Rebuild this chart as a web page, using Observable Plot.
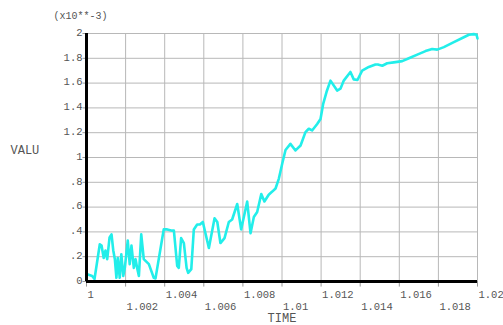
<!DOCTYPE html>
<html>
<head>
<meta charset="utf-8">
<script src="https://cdn.jsdelivr.net/npm/d3@7"></script>
<script src="https://cdn.jsdelivr.net/npm/@observablehq/plot@0.6"></script>
<style>
  html, body { margin: 0; padding: 0; background: white; }
  svg text { font-family: "Liberation Mono", "DejaVu Sans Mono", monospace !important; }
</style>
</head>
<body>
<div id="chart"></div>
<script>
// TIME values
const times = [
  1.00000, 1.00029, 1.00041, 1.00068, 1.00077, 1.00088, 1.00097, 1.00106, 1.00118, 1.00128,
  1.00137, 1.00145, 1.00153, 1.00160, 1.00170, 1.00178, 1.00188, 1.00196, 1.00211, 1.00221,
  1.00230, 1.00242, 1.00251, 1.00259, 1.00268, 1.00280, 1.00293, 1.00319, 1.00344, 1.00353,
  1.00395, 1.00413, 1.00438, 1.00447, 1.00464, 1.00472, 1.00484, 1.00498, 1.00512, 1.00520,
  1.00536, 1.00549, 1.00566, 1.00580, 1.00595, 1.00626, 1.00655, 1.00669, 1.00685, 1.00706,
  1.00728, 1.00745, 1.00771, 1.00791, 1.00822, 1.00839, 1.00856, 1.00873, 1.00894, 1.00910,
  1.00932, 1.00950, 1.00967, 1.00984, 1.01001, 1.01018, 1.01043, 1.01069, 1.01095, 1.01120,
  1.01137, 1.01154, 1.01180, 1.01197, 1.01211, 1.01228, 1.01248, 1.01282, 1.01299, 1.01316,
  1.01350, 1.01367, 1.01386, 1.01410, 1.01444, 1.01478, 1.01490, 1.01513, 1.01538, 1.01572,
  1.01615, 1.01649, 1.01692, 1.01734, 1.01768, 1.01794, 1.01828, 1.01879, 1.01930, 1.01956,
  1.01981, 1.01995, 1.02000
];
// VALU values (x10**-3)
const values = [
  0.06, 0.045, 0.02, 0.30, 0.29, 0.19, 0.25, 0.18, 0.355, 0.38,
  0.25, 0.18, 0.03, 0.19, 0.03, 0.22, 0.045, 0.11, 0.33, 0.14,
  0.29, 0.11, 0.18, 0.11, 0.045, 0.38, 0.18, 0.14, 0.03, 0.025,
  0.42, 0.42, 0.41, 0.41, 0.125, 0.11, 0.35, 0.31, 0.11, 0.07,
  0.10, 0.42, 0.46, 0.46, 0.48, 0.27, 0.51, 0.48, 0.31, 0.35,
  0.48, 0.50, 0.625, 0.42, 0.645, 0.39, 0.52, 0.56, 0.705, 0.645,
  0.70, 0.725, 0.75, 0.83, 0.95, 1.06, 1.11, 1.057, 1.097, 1.205,
  1.232, 1.218, 1.27, 1.31, 1.435, 1.53, 1.62, 1.54, 1.555, 1.62,
  1.69, 1.63, 1.625, 1.70, 1.73, 1.75, 1.75, 1.74, 1.76, 1.767,
  1.777, 1.80, 1.83, 1.858, 1.875, 1.87, 1.89, 1.93, 1.97, 1.99,
  1.995, 1.99, 1.96
];

const xTicks = [1, 1.002, 1.004, 1.006, 1.008, 1.01, 1.012, 1.014, 1.016, 1.018, 1.02];
const xTickLabels = ["1", "1.002", "1.004", "1.006", "1.008", "1.01", "1.012", "1.014", "1.016", "1.018", "1.02"];
const yTicks = [0, 0.2, 0.4, 0.6, 0.8, 1, 1.2, 1.4, 1.6, 1.8, 2];
const yTickLabels = ["0", ".2", ".4", ".6", ".8", "1", "1.2", "1.4", "1.6", "1.8", "2"];

const data = times.map((t, i) => ({t, v: values[i]}));
const xLab = xTicks.map((t, i) => ({t, label: xTickLabels[i], row: i % 2}));
const yLab = yTicks.map((v, i) => ({v, label: yTickLabels[i]}));

const font = "Liberation Mono";
const grid = "#b8b8b8";
const chart = Plot.plot({
  width: 503,
  height: 325,
  marginLeft: 86,
  marginRight: 26,
  marginTop: 33,
  marginBottom: 44,
  x: {domain: [1, 1.02], axis: null},
  y: {domain: [0, 2], axis: null},
  style: {fontFamily: font, fontSize: "10.5px", color: "#555", background: "white"},
  marks: [
    Plot.ruleX(xTicks, {stroke: grid, strokeWidth: 1}),
    Plot.ruleY(yTicks, {stroke: grid, strokeWidth: 1}),
    Plot.ruleX(xTicks, {x: d => d, y1: 0, y2: -0.045, stroke: "#999", strokeWidth: 1}),
    Plot.ruleY(yTicks, {y: d => d, x1: 1, x2: 0.99982, stroke: "#999", strokeWidth: 1}),
    Plot.line(data, {x: "t", y: "v", stroke: "#22eeea", strokeWidth: 2.6, curve: "linear"}),
    Plot.ruleX([1], {stroke: "black", strokeWidth: 3}),
    Plot.ruleY([0], {stroke: "black", strokeWidth: 3, x1: 1, x2: 1.02}),
    Plot.text(yLab, {x: 1, y: "v", text: "label", dx: -4, dy: -1, textAnchor: "end", fill: "#555", fontFamily: font, fontSize: 10.5}),
    Plot.text(xLab.filter(d => d.row === 0), {x: "t", y: 0, text: "label", dx: 1, dy: 13, textAnchor: "start", fill: "#555", fontFamily: font, fontSize: 10.5}),
    Plot.text(xLab.filter(d => d.row === 1), {x: "t", y: 0, text: "label", dx: 1, dy: 25.5, textAnchor: "start", fill: "#555", fontFamily: font, fontSize: 10.5}),
    Plot.text(["TIME"], {x: 1.01, y: 0, text: d => d, dy: 36.5, textAnchor: "middle", fontSize: 12, fill: "#555", fontFamily: font}),
    Plot.text(["VALU"], {x: 1, y: 1.057, text: d => d, dx: -76, textAnchor: "start", fontSize: 12, fill: "#555", fontFamily: font}),
    Plot.text(["(x10**-3)"], {x: 1, y: 2, text: d => d, dx: -33, dy: -18, textAnchor: "start", fontSize: 10, fill: "#555", fontFamily: font})
  ]
});
document.getElementById("chart").appendChild(chart);
</script>
</body>
</html>
